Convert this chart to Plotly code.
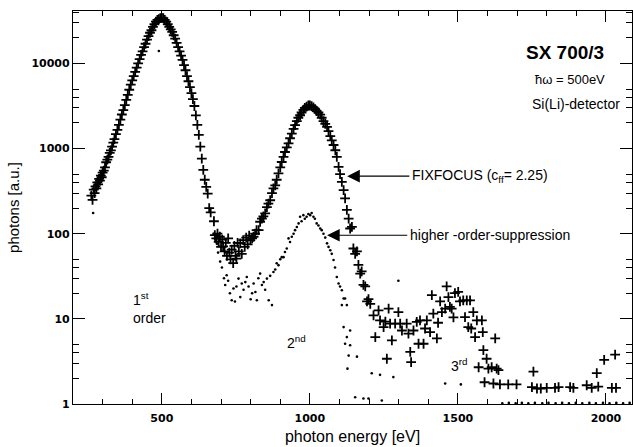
import numpy as np
import plotly.graph_objects as go

# FIXFOCUS (c_ff = 2.25) series, "+" markers
fix_x = [262, 266, 270, 273, 276, 279, 282, 285, 288, 291, 294, 297, 300, 304, 308, 312, 316, 320, 324,
         328, 332, 336, 340, 345, 350, 355, 360, 365, 370, 375, 380, 385, 390, 395, 400, 405, 410, 415, 420,
         425, 430, 435, 440, 445, 450, 455, 460, 465, 470, 475, 480, 485, 490, 495, 500, 505, 510, 515, 520,
         525, 530, 535, 540, 545, 550, 555, 560, 565, 570, 575, 580, 585, 590, 595, 600, 605, 610, 615, 620,
         625, 630, 635, 640, 645, 650, 655, 660, 665, 676,
         679, 684, 688, 692, 696, 700, 704, 707, 712, 716, 720, 724, 728, 732, 736, 741, 745, 749, 752, 756,
         760, 765, 770, 775, 780, 785, 790, 795, 799, 805, 810, 815, 820, 827, 832, 838, 843, 849, 855, 860,
         866, 872, 877, 883, 888, 894, 900, 905, 911, 916, 922, 928, 933, 939, 945, 950, 956, 961, 967, 972,
         978, 983, 989, 995, 1000, 1006, 1012, 1018, 1023, 1029, 1035, 1040, 1046, 1052, 1058, 1063, 1069, 1074,
         1080, 1086, 1091, 1097, 1102, 1108, 1114, 1119, 1125, 1131, 1136, 1142, 1147, 1153, 1159, 1164, 1170,
         1175, 1181, 1187, 1193, 1198, 1204, 1215, 1221, 1232, 1237, 1249, 1255, 1260, 1266, 1271, 1277, 1288,
         1299, 1305, 1311, 1327, 1333, 1339, 1342, 1350, 1361, 1367, 1372, 1384, 1389, 1395, 1406, 1412, 1417,
         1429, 1433, 1440, 1446, 1457, 1462, 1468, 1473, 1479, 1485, 1490, 1501, 1507, 1518, 1524, 1530, 1535,
         1541, 1545, 1552, 1558, 1564, 1570, 1581, 1584, 1586, 1590, 1597, 1603, 1614, 1620, 1626, 1631, 1637,
         1642, 1670, 1698, 1750, 1755, 1767, 1780, 1800, 1828, 1840, 1879, 1890, 1935, 1952, 1969, 1974, 1994,
         2020, 2031, 2034]
fix_y = [280, 250, 330, 300, 360, 340, 400, 380, 440, 420, 480, 460, 520, 550, 600, 690, 740, 800, 890,
         950, 1050, 1170, 1290, 1480, 1660, 1900, 2190, 2510, 2820, 3240, 3720, 4270, 4900, 5620, 6310, 7080, 7940, 8910, 10000,
         11200, 12600, 13800, 15500, 17000, 19000, 20900, 22900, 24500, 26900, 28800, 30900, 32400, 33100, 33900, 34300, 33900, 32400, 30900, 28800,
         26900, 25100, 23400, 21400, 19500, 17400, 15500, 13800, 12300, 11000, 9550, 8300, 7080, 6170, 5250, 4470, 3800, 3160, 2450, 1900,
         1450, 1050, 760, 560, 430, 355, 295, 200, 178, 140,
         96, 88, 100, 80, 92, 70, 85, 71, 62, 78, 55, 88, 60, 50, 65, 45, 72, 55, 51, 78,
         62, 77, 58, 84, 70, 90, 75, 95, 84, 88, 92, 100, 110, 110, 138, 150, 160, 173, 205, 225,
         247, 300, 340, 370, 430, 510, 600, 695, 800, 910, 1030, 1150, 1320, 1500, 1700, 1880, 2100, 2300, 2460, 2650,
         2850, 3000, 3100, 3200, 3200, 3150, 3050, 2900, 2750, 2650, 2500, 2300, 2100, 1950, 1800, 1600, 1400, 1250,
         1100, 955, 800, 610, 500, 405, 325, 260, 190, 150, 115, 120, 67, 58, 62, 43, 34,
         36, 25, 24, 16, 17, 15, 11, 6.1, 12.6, 9.6, 8.0, 9.3, 3.4, 13.2, 8.8, 5.6, 8.8,
         12, 8.8, 7.3, 8.8, 6.7, 4.1, 3.1, 7.3, 9.2, 5.1, 9.6, 5.1, 7.7, 9.6, 7.0, 19, 11.5,
         5.9, 9.0, 16, 12, 13.2, 24, 18, 13.8, 13.2, 10.4, 20, 20.7, 16, 16.5, 10.5, 16.5, 8.0,
         16.5, 7.7, 12, 6.1, 9.6, 2.7, 9.6, 7.0, 4.3, 1.8, 3.4, 2.6, 2.7, 1.74, 5.9, 2.6, 2.5,
         1.7, 1.7, 1.7, 1.58, 2.4, 1.52, 1.52, 1.55, 1.55, 1.58, 1.58, 1.55, 1.66, 1.55, 2.3, 1.6, 3.3,
         1.55, 3.8, 1.55]

# higher-order-suppression series, small dots
hos_x = [268, 490, 675, 680, 686, 690, 697, 703, 710, 714, 719, 724, 730, 736, 742, 747, 752, 759, 765, 770, 776,
         782, 787, 793, 800, 805, 810, 816, 821, 826, 832, 838, 844, 849, 855, 861, 866, 872, 877, 883, 888,
         894, 900, 905, 911, 916, 922, 928, 933, 939, 945, 950, 956, 962, 967, 972, 978, 983, 989, 995, 1001,
         1006, 1012, 1017, 1023, 1029, 1035, 1040, 1046, 1052, 1058, 1063, 1069, 1074, 1080, 1085, 1091, 1097,
         1102, 1108, 1114, 1119, 1125, 1108, 1114, 1136, 1125, 1136, 1119, 1131, 1159, 1127, 1209, 1237, 1282,
         1299, 1457, 1510, 1153, 1181, 1198, 1243,
         1650, 1672, 1695, 1716, 1738, 1760, 1785, 1806, 1830, 1852, 1875, 1898, 1920, 1944, 1966, 1990, 2012,
         2035, 2058, 2080]
hos_y = [175, 14000, 100, 85, 76, 60, 47, 40, 30, 25, 32.5, 28, 20, 16.5, 22.7, 16, 24, 29.7, 18, 26, 22,
         27, 31, 24, 17, 20, 26, 20.7, 16.5, 30, 34, 25, 27, 22, 29.7, 16.5, 32, 14.5, 35.5, 38, 45,
         42.7, 50, 53, 53, 61, 67, 88, 80, 92, 100, 110, 120, 132, 158, 140, 165, 150, 158, 170, 165,
         175, 158, 150, 132, 125, 115, 110, 100, 90, 77, 70, 64, 58, 49, 40, 31, 26,
         24, 21.7, 17.3, 17.3, 14.5, 14.5, 8.0, 7.3, 6.1, 4.9, 5.1, 3.7, 3.6, 2.6, 2.3, 2.2, 2.07,
         28, 1.74, 1.7, 1.2, 1.16, 1.16, 1.1,
         1.02, 1.03, 1.02, 1.03, 1.02, 1.03, 1.02, 1.03, 1.02, 1.03, 1.02, 1.03, 1.02, 1.03, 1.02, 1.03, 1.02,
         1.03, 1.02, 1.03]

x_major = [500, 1000, 1500, 2000]
x_minor = [300, 400, 600, 700, 800, 900, 1100, 1200, 1300, 1400, 1600, 1700, 1800, 1900]
y_major = [1, 10, 100, 1000, 10000]
y_major_text = ["1", "10", "100", "1000", "10000"]
y_minor = [m * d for d in [1, 10, 100, 1000, 10000] for m in [2, 3, 4, 5]]

fig = go.Figure()
fig.add_trace(go.Scatter(x=hos_x, y=hos_y, mode="markers",
                         marker=dict(symbol="circle", size=2.6, color="black", line=dict(width=0)),
                         showlegend=False))
fig.add_trace(go.Scatter(x=fix_x, y=fix_y, mode="markers",
                         marker=dict(symbol="cross-thin", size=7, color="black",
                                     line=dict(width=1.8, color="black")),
                         showlegend=False))

tickfont = dict(family="DejaVu Sans", size=11, color="black", weight="bold")
fig.update_xaxes(range=[200, 2088], showgrid=False, zeroline=False,
                 showline=True, linecolor="black", linewidth=1.2, mirror="ticks",
                 ticks="inside", ticklen=11, tickwidth=1.2, tickcolor="black",
                 tickmode="array", tickvals=x_major, ticktext=[str(v) for v in x_major],
                 tickfont=tickfont, ticklabelstandoff=4,
                 minor=dict(tickmode="array", tickvals=x_minor, ticks="inside", ticklen=5,
                            tickwidth=1, tickcolor="black", showgrid=False),
                 title=dict(text="photon energy [eV]", font=dict(family="Liberation Sans", size=16, color="black"),
                            standoff=6))
fig.update_yaxes(type="log", range=[0, 4.615], showgrid=False, zeroline=False,
                 showline=True, linecolor="black", linewidth=1.2, mirror="ticks",
                 ticks="inside", ticklen=12, tickwidth=1.2, tickcolor="black",
                 tickmode="array", tickvals=y_major, ticktext=y_major_text,
                 tickfont=tickfont,
                 minor=dict(tickmode="array", tickvals=y_minor, ticks="inside", ticklen=6,
                            tickwidth=1, tickcolor="black", showgrid=False),
                 title=dict(text="photons [a.u.]", font=dict(family="Liberation Sans", size=15, color="black"),
                            standoff=8))

txt = dict(family="Liberation Sans", color="black")
ann = []
ann.append(dict(x=1862, y=np.log10(13600), xref="x", yref="y", text="<b>SX 700/3</b>",
                showarrow=False, font=dict(size=19, **txt), xanchor="center", yanchor="middle"))
ann.append(dict(x=1880, y=np.log10(6400), xref="x", yref="y", text="\u0127\u03c9 = 500eV",
                showarrow=False, font=dict(size=13, **txt), xanchor="center", yanchor="middle"))
ann.append(dict(x=2088, y=np.log10(3350), xref="x", yref="y", text="Si(Li)-detector",
                showarrow=False, font=dict(size=14, **txt), xanchor="right", yanchor="middle", xshift=-10))
# labelled arrows
ann.append(dict(x=1126, y=np.log10(474), xref="x", yref="y", ax=1336, ay=np.log10(474),
                axref="x", ayref="y", text="FIXFOCUS (c<sub>ff</sub>= 2.25)", showarrow=True,
                arrowhead=2, arrowsize=2.3, arrowwidth=1.1, arrowcolor="black",
                font=dict(size=14, **txt), xanchor="left", yanchor="middle", borderpad=2))
ann.append(dict(x=1058, y=np.log10(96), xref="x", yref="y", ax=1329, ay=np.log10(96),
                axref="x", ayref="y", text="higher -order-suppression", showarrow=True,
                arrowhead=2, arrowsize=2.3, arrowwidth=1.1, arrowcolor="black",
                font=dict(size=14, **txt), xanchor="left", yanchor="middle", borderpad=2))
# order labels
ann.append(dict(x=395, y=np.log10(13.3), xref="x", yref="y", text="1<sup>st</sup><br>order",
                showarrow=False, font=dict(size=14, **txt), xanchor="left", yanchor="middle", align="left"))
ann.append(dict(x=915, y=np.log10(5.3), xref="x", yref="y", text="2<sup>nd</sup>",
                showarrow=False, font=dict(size=14, **txt), xanchor="left", yanchor="middle"))
ann.append(dict(x=1470, y=np.log10(2.9), xref="x", yref="y", text="3<sup>rd</sup>",
                showarrow=False, font=dict(size=14, **txt), xanchor="left", yanchor="middle"))

fig.update_layout(width=633, height=447, margin=dict(l=73, r=1, t=11, b=43),
                  paper_bgcolor="white", plot_bgcolor="white", annotations=ann,
                  font=dict(family="Liberation Sans", color="black"))
fig.write_html("out.html")
